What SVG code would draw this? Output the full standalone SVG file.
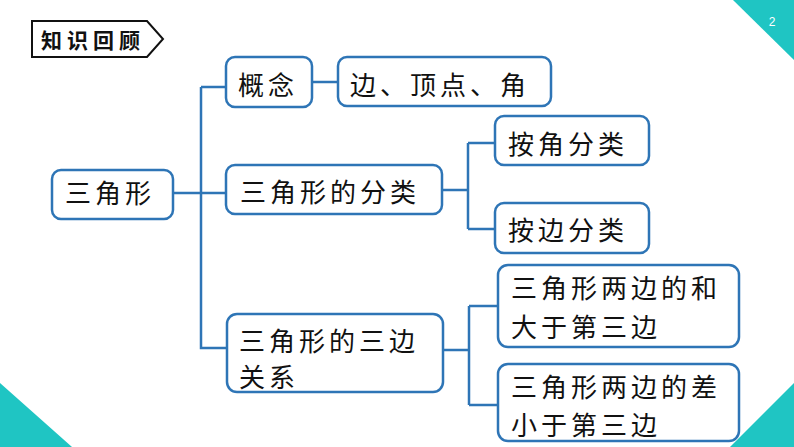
<svg xmlns="http://www.w3.org/2000/svg" width="794" height="447" viewBox="0 0 794 447">
<style>
.box{fill:#fff;stroke:#2E75B6;stroke-width:2.5}
.t{font-family:"Noto Sans CJK SC","Noto Sans CJK JP",sans-serif;font-size:26px;letter-spacing:4px;fill:#111}
.ln{fill:none;stroke:#2E75B6;stroke-width:2.5}
.deco{fill:#1FC5C3}
</style>
<rect width="794" height="447" fill="#fff"/>
<polygon class="deco" points="733,0 794,0 794,60"/>
<text x="772" y="26" font-family="Liberation Sans, sans-serif" font-size="12" fill="#fff" text-anchor="middle">2</text>
<polygon class="deco" points="0,383 72,447 0,447"/>
<polygon class="deco" points="730,447 794,383 794,447"/>
<g id="title">
<polygon points="32,21 147,21 163,39 147,57 32,57" fill="#fff" stroke="#111" stroke-width="2"/>
<text x="41" y="48" font-family="Noto Sans CJK SC, sans-serif" font-size="21" font-weight="bold" letter-spacing="5" fill="#111">知识回顾</text>
</g>
<g id="connectors">
<path class="ln" d="M173,193 H227 M201,87 V348 H227 M201,87 H226"/>
<path class="ln" d="M312,82 H338"/>
<path class="ln" d="M442,190 H468 M468,143 V229 M468,143 H495 M468,229 H495"/>
<path class="ln" d="M443,350 H469 M469,306 V405 M469,306 H498 M469,405 H498"/>
</g>
<g id="n-sanjiaoxing"><rect class="box" x="52" y="170" width="121" height="49" rx="9"/><text class="t" x="65" y="203">三角形</text></g>
<g id="n-gainian"><rect class="box" x="226" y="57" width="86" height="50" rx="9"/><text class="t" x="238" y="95">概念</text></g>
<g id="n-bian"><rect class="box" x="338" y="57" width="213" height="49" rx="9"/><text class="t" x="350" y="95">边、顶点、角</text></g>
<g id="n-fenlei"><rect class="box" x="226" y="165" width="216" height="49" rx="9"/><text class="t" x="240" y="202">三角形的分类</text></g>
<g id="n-anjiao"><rect class="box" x="495" y="116" width="154" height="49" rx="9"/><text class="t" x="508" y="154">按角分类</text></g>
<g id="n-anbian"><rect class="box" x="495" y="203" width="154" height="50" rx="9"/><text class="t" x="508" y="240">按边分类</text></g>
<g id="n-guanxi"><rect class="box" x="227" y="314" width="216" height="78" rx="10"/><text class="t" x="239" y="351">三角形的三边</text><text class="t" x="239" y="387">关系</text></g>
<g id="n-he"><rect class="box" x="498" y="265" width="241" height="82" rx="10"/><text class="t" x="511" y="298">三角形两边的和</text><text class="t" x="511" y="337">大于第三边</text></g>
<g id="n-cha"><rect class="box" x="498" y="364" width="241" height="77" rx="10"/><text class="t" x="511" y="397">三角形两边的差</text><text class="t" x="511" y="435">小于第三边</text></g>
</svg>
